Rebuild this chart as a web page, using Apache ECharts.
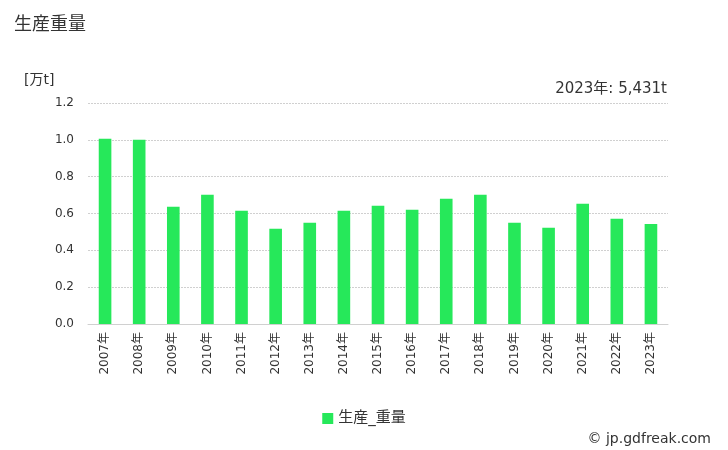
<!DOCTYPE html>
<html><head><meta charset="utf-8">
<script src="https://cdn.jsdelivr.net/npm/echarts@6/dist/echarts.min.js"></script>
<style>html,body{margin:0;padding:0;background:#fff}#c{width:728px;height:450px}</style>
</head><body><div id="c"></div>
<script>
var categories = ["2007年","2008年","2009年","2010年","2011年","2012年","2013年","2014年","2015年","2016年","2017年","2018年","2019年","2020年","2021年","2022年","2023年"];
var values = [1.006,1.0,0.637,0.702,0.615,0.517,0.550,0.615,0.642,0.620,0.680,0.702,0.550,0.523,0.653,0.572,0.5431];
var yTicks = [0,0.2,0.4,0.6,0.8,1.0,1.2];
var seriesName = "生産_重量";
var F = '"DejaVu Sans","Noto Sans CJK JP",sans-serif';
var chart = echarts.init(document.getElementById('c'), null, {renderer:'canvas'});
chart.setOption({
  animation:false,
  backgroundColor:'#fff',
  title:[
    {text:'生産重量', left:9, top:11, textStyle:{fontFamily:F, fontSize:18, fontWeight:'normal', color:'#333'}},
    {text:'[万t]', left:19, top:68, textStyle:{fontFamily:F, fontSize:14, fontWeight:'normal', color:'#333'}},
    {text:'2023年: 5,431t', right:56, top:77, textStyle:{fontFamily:F, fontSize:15, fontWeight:'normal', color:'#333'}},
    {text:'© jp.gdfreak.com', right:12, top:427, textStyle:{fontFamily:F, fontSize:14, fontWeight:'normal', color:'#333'}}
  ],
  grid:{left:88, right:60, top:103, bottom:126},
  legend:{data:[seriesName], left:'center', top:406, itemWidth:11, itemHeight:11, icon:'rect', itemGap:6,
    textStyle:{fontFamily:F, fontSize:15, color:'#333'}},
  xAxis:{type:'category', data:categories,
    axisLine:{lineStyle:{color:'#d0d0d0'}}, axisTick:{lineStyle:{color:'#d0d0d0'}, length:5},
    axisLabel:{rotate:90, fontFamily:F, fontSize:12, color:'#333', margin:8}},
  yAxis:{type:'value', min:0, max:1.2, interval:0.2,
    axisLine:{show:false}, axisTick:{show:false},
    axisLabel:{fontFamily:F, fontSize:12, color:'#333', margin:14, formatter:function(v){return v.toFixed(1);}},
    splitLine:{lineStyle:{color:'#d0d0d0', type:[2,1]}}},
  series:[{name:seriesName, type:'bar', data:values, barWidth:'37%', itemStyle:{color:'#26e85a'}}]
});
</script></body></html>
